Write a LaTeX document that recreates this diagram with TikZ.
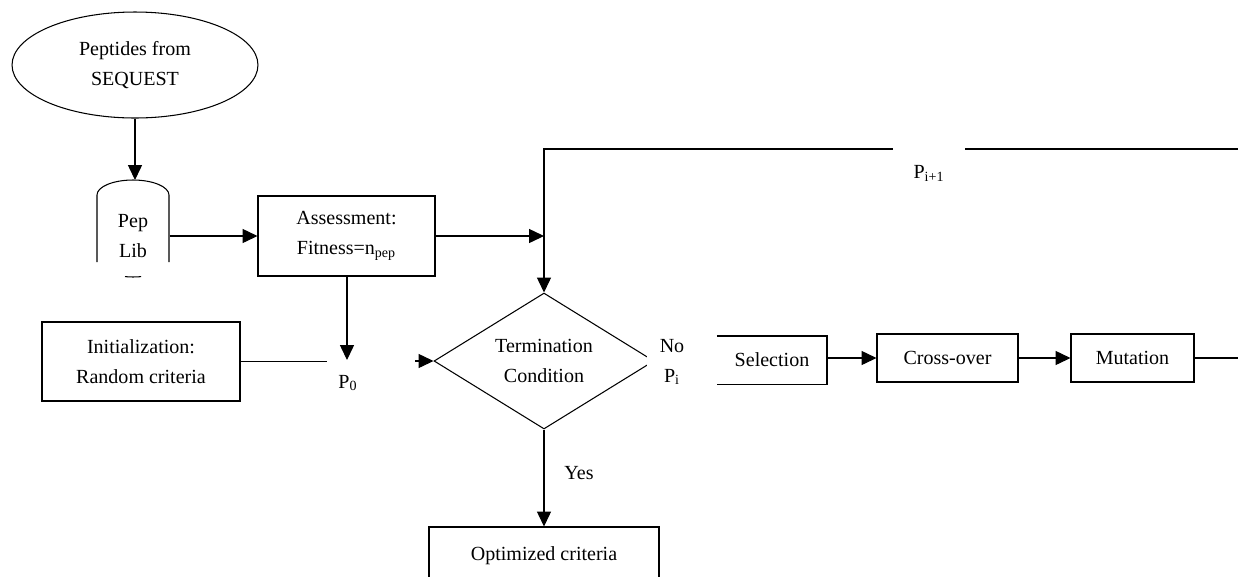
\documentclass[tikz,border=0pt]{standalone}
\usepackage{fontspec}
\setmainfont{Liberation Serif}
\usetikzlibrary{arrows.meta,positioning,calc,shapes.geometric}

\begin{document}
\begin{tikzpicture}[x=0.02cm,y=-0.02cm,>={Triangle[length=8.5pt,width=8pt]},line width=0.6pt,
  font=\fontsize{11.4}{17}\selectfont]
\tikzstyle{blk}=[draw,align=center,inner sep=2pt]
\tikzstyle{lbl}=[align=center,inner sep=1pt]
\useasboundingbox (0,0) rectangle (1238,576);
% source and library
\node[blk,ellipse,minimum width=4.92cm,minimum height=2.12cm] (src) at (135,65) {Peptides from\\SEQUEST};
\node[lbl,minimum width=1.44cm] (peplib) at (133,236) {Pep\\Lib};
\draw (97,262) -- (97,195) arc[start angle=180,end angle=0,x radius=0.72cm,y radius=0.3cm] -- (169,262);
\draw (125,276.6) arc[start angle=257,end angle=283,x radius=0.72cm,y radius=0.3cm];
\draw[->] (src.south) -- (135,180);
% main flow
\node[blk,minimum width=3.54cm,minimum height=1.6cm] (assess) at (346.5,236) {Assessment:\\Fitness=n\textsubscript{pep}};
\node[blk,minimum width=3.96cm,minimum height=1.58cm] (init) at (141,361.5) {Initialization:\\Random criteria};
\node[blk,diamond,aspect=1.6,minimum width=4.4cm,minimum height=2.72cm,inner sep=0pt] (cond) at (544,361) {Termination\\Condition};
\node[lbl] (p0) at (348,383) {P\textsubscript{0}};
\coordinate (p0top) at (347,360);
\coordinate (p0l) at (327,361.5);
\coordinate (p0r) at (415,361);
\node[lbl,minimum width=2.18cm,minimum height=0.94cm] (sel) at (772,360) {Selection};
\node[blk,minimum width=2.82cm,minimum height=0.96cm] (cross) at (947.5,358) {Cross-over};
\node[blk,minimum width=2.46cm,minimum height=0.96cm] (mut) at (1132.5,358) {Mutation};
\node[blk,minimum width=4.6cm,minimum height=1.16cm] (opt) at (544,556) {Optimized criteria};
\coordinate (topright) at (1242,149);
\coordinate (topleft) at (544,149);

\draw (sel.north west) -- (sel.north east) -- (sel.south east) -- (sel.south west);
\draw[->] (peplib) -- (assess);
\draw[->] (assess.east) -- (assess.east -| topleft);
\draw[->] (assess.south -| p0top) -- (p0top);
\draw (init.east) -- (p0l);
\draw[->] (p0r) -- (cond.west);
\draw[->] (sel.east |- cross.west) -- (cross.west);
\draw[->] (cross) -- (mut);
\draw[->] (mut.east) -| (topright) -- (topleft) -- (cond.north);
\draw[->] (cond.south) -- (opt.north);
% labels on white boxes
\node[lbl,fill=white,minimum width=1.44cm,minimum height=1cm] (pnext) at (929,173) {P\textsubscript{i+1}};
\node[lbl,fill=white,minimum width=1cm] (nolbl) at (672,362) {No\\P\textsubscript{i}};
\node[lbl] (yes) at (579,473) {Yes};
\end{tikzpicture}
\end{document}
